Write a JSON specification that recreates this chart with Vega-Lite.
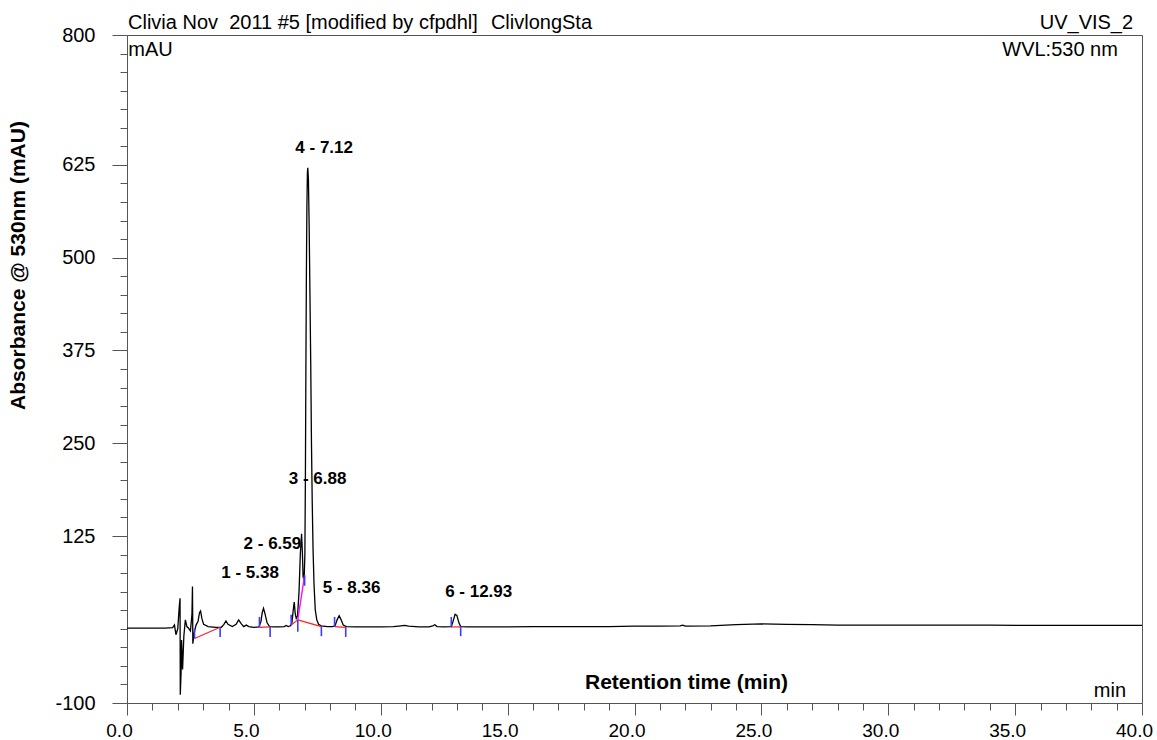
{
  "$schema": "https://vega.github.io/schema/vega-lite/v6.json",
  "autosize": {"type": "none"},
  "width": 1015,
  "height": 668,
  "padding": {"left": 127, "top": 35, "right": 15, "bottom": 37},
  "background": "white",
  "config": {
    "font": "Liberation Sans",
    "view": {"stroke": "#555555", "strokeWidth": 1},
    "axis": {"grid": false, "domainColor": "#555555", "tickColor": "#555555", "labelColor": "#000000", "titleColor": "#000000", "labelFont": "Liberation Sans", "titleFont": "Liberation Sans", "labelFontSize": 20}
  },
  "resolve": {"axis": {"x": "independent", "y": "independent"}},
  "datasets": {
    "trace": [
      {"time": 0, "mAU": 1}, {"time": 0.5, "mAU": 1}, {"time": 1, "mAU": 1}, {"time": 1.5, "mAU": 1},
      {"time": 1.8, "mAU": 1.5}, {"time": 1.87, "mAU": 5}, {"time": 1.93, "mAU": -8}, {"time": 2.0, "mAU": 0},
      {"time": 2.06, "mAU": 30}, {"time": 2.09, "mAU": 41}, {"time": 2.1, "mAU": -89}, {"time": 2.13, "mAU": -60},
      {"time": 2.15, "mAU": -15}, {"time": 2.19, "mAU": -55}, {"time": 2.24, "mAU": -10}, {"time": 2.3, "mAU": 12},
      {"time": 2.36, "mAU": 3}, {"time": 2.42, "mAU": 1}, {"time": 2.5, "mAU": -3}, {"time": 2.56, "mAU": 20},
      {"time": 2.58, "mAU": 57}, {"time": 2.595, "mAU": -20}, {"time": 2.65, "mAU": -5}, {"time": 2.72, "mAU": 5},
      {"time": 2.8, "mAU": 10}, {"time": 2.86, "mAU": 22}, {"time": 2.9, "mAU": 24}, {"time": 2.95, "mAU": 14},
      {"time": 3.02, "mAU": 6}, {"time": 3.2, "mAU": 3}, {"time": 3.5, "mAU": 2}, {"time": 3.72, "mAU": 2},
      {"time": 3.82, "mAU": 6}, {"time": 3.9, "mAU": 10.5}, {"time": 3.98, "mAU": 6}, {"time": 4.15, "mAU": 3},
      {"time": 4.3, "mAU": 6}, {"time": 4.4, "mAU": 12}, {"time": 4.5, "mAU": 7}, {"time": 4.6, "mAU": 3},
      {"time": 4.7, "mAU": 5}, {"time": 4.8, "mAU": 3}, {"time": 5.0, "mAU": 2}, {"time": 5.2, "mAU": 2.5},
      {"time": 5.28, "mAU": 10}, {"time": 5.33, "mAU": 22}, {"time": 5.38, "mAU": 27.6}, {"time": 5.44, "mAU": 20},
      {"time": 5.52, "mAU": 8}, {"time": 5.62, "mAU": 3}, {"time": 5.8, "mAU": 2.5}, {"time": 6.0, "mAU": 2.5},
      {"time": 6.2, "mAU": 3}, {"time": 6.27, "mAU": 4.5}, {"time": 6.35, "mAU": 3}, {"time": 6.45, "mAU": 4},
      {"time": 6.5, "mAU": 8}, {"time": 6.55, "mAU": 25}, {"time": 6.59, "mAU": 36}, {"time": 6.63, "mAU": 20},
      {"time": 6.67, "mAU": 14}, {"time": 6.72, "mAU": 17}, {"time": 6.78, "mAU": 50}, {"time": 6.83, "mAU": 100},
      {"time": 6.88, "mAU": 128}, {"time": 6.91, "mAU": 105}, {"time": 6.94, "mAU": 70}, {"time": 6.98, "mAU": 66},
      {"time": 7.01, "mAU": 100}, {"time": 7.03, "mAU": 200}, {"time": 7.05, "mAU": 350}, {"time": 7.07, "mAU": 480},
      {"time": 7.09, "mAU": 570}, {"time": 7.11, "mAU": 615}, {"time": 7.125, "mAU": 621}, {"time": 7.15, "mAU": 605},
      {"time": 7.18, "mAU": 540}, {"time": 7.21, "mAU": 450}, {"time": 7.24, "mAU": 360}, {"time": 7.27, "mAU": 250},
      {"time": 7.3, "mAU": 170}, {"time": 7.33, "mAU": 110}, {"time": 7.37, "mAU": 60}, {"time": 7.42, "mAU": 25},
      {"time": 7.48, "mAU": 12}, {"time": 7.55, "mAU": 6}, {"time": 7.65, "mAU": 4}, {"time": 7.9, "mAU": 3},
      {"time": 8.1, "mAU": 3}, {"time": 8.2, "mAU": 4}, {"time": 8.28, "mAU": 12}, {"time": 8.36, "mAU": 17.7},
      {"time": 8.44, "mAU": 12}, {"time": 8.52, "mAU": 5}, {"time": 8.65, "mAU": 3}, {"time": 9.0, "mAU": 2.5},
      {"time": 9.5, "mAU": 2.5}, {"time": 10.0, "mAU": 2.5}, {"time": 10.5, "mAU": 3}, {"time": 10.8, "mAU": 4},
      {"time": 10.94, "mAU": 4.5}, {"time": 11.1, "mAU": 3.5}, {"time": 11.5, "mAU": 2.5}, {"time": 11.9, "mAU": 2.5},
      {"time": 12.05, "mAU": 4}, {"time": 12.13, "mAU": 5.5}, {"time": 12.22, "mAU": 3}, {"time": 12.5, "mAU": 2.5},
      {"time": 12.78, "mAU": 3}, {"time": 12.85, "mAU": 10}, {"time": 12.93, "mAU": 19.5}, {"time": 13.0, "mAU": 18},
      {"time": 13.08, "mAU": 8}, {"time": 13.15, "mAU": 3}, {"time": 13.4, "mAU": 2.5}, {"time": 14, "mAU": 2.5},
      {"time": 15, "mAU": 2.5}, {"time": 16, "mAU": 2.8}, {"time": 17, "mAU": 3}, {"time": 18, "mAU": 3},
      {"time": 19, "mAU": 3}, {"time": 20, "mAU": 3.5}, {"time": 21, "mAU": 3.5}, {"time": 21.8, "mAU": 4},
      {"time": 21.9, "mAU": 4.8}, {"time": 22.0, "mAU": 3.5}, {"time": 23, "mAU": 4}, {"time": 24, "mAU": 5.5},
      {"time": 25, "mAU": 6.5}, {"time": 26, "mAU": 6}, {"time": 27, "mAU": 5.5}, {"time": 28, "mAU": 5},
      {"time": 30, "mAU": 5}, {"time": 32, "mAU": 4.8}, {"time": 34, "mAU": 4.8}, {"time": 36, "mAU": 4.6},
      {"time": 38, "mAU": 4.6}, {"time": 40, "mAU": 4.5}
    ],
    "baselines": [
      {"start": 2.66, "startAU": -13, "end": 3.67, "endAU": 2},
      {"start": 5.22, "startAU": 2, "end": 5.64, "endAU": 2.5},
      {"start": 6.47, "startAU": 5, "end": 6.73, "endAU": 12},
      {"start": 6.73, "startAU": 12, "end": 7.66, "endAU": 3},
      {"start": 8.18, "startAU": 3, "end": 8.62, "endAU": 2},
      {"start": 12.78, "startAU": 2.5, "end": 13.15, "endAU": 2.5}
    ],
    "drops": [
      {"start": 6.73, "startAU": 12, "end": 7.0, "endAU": 72}
    ],
    "delimiters": [
      {"time": 2.66, "from": -13, "to": 0},
      {"time": 3.67, "from": 2, "to": -11},
      {"time": 5.22, "from": 2, "to": 16},
      {"time": 5.64, "from": 2.5, "to": -11},
      {"time": 6.47, "from": 5, "to": 19},
      {"time": 6.73, "from": 12, "to": -4},
      {"time": 7.0, "from": 72, "to": 58},
      {"time": 7.66, "from": 3, "to": -10},
      {"time": 8.18, "from": 3, "to": 16},
      {"time": 8.62, "from": 2, "to": -11},
      {"time": 12.78, "from": 3, "to": 16},
      {"time": 13.15, "from": 3, "to": -10}
    ],
    "peaks": [
      {"time": 4.85, "mAU": 75, "label": "1 - 5.38"},
      {"time": 5.73, "mAU": 114, "label": "2 - 6.59"},
      {"time": 7.51, "mAU": 202, "label": "3 - 6.88"},
      {"time": 7.77, "mAU": 648, "label": "4 - 7.12"},
      {"time": 8.85, "mAU": 55, "label": "5 - 8.36"},
      {"time": 13.86, "mAU": 49, "label": "6 - 12.93"}
    ],
    "notesLeft": [
      {"time": 0.04, "mAU": 808, "label": "Clivia Nov\u00a0 2011 #5 [modified by cfpdhl]"},
      {"time": 14.34, "mAU": 808, "label": "ClivlongSta"},
      {"time": 0.05, "mAU": 772, "label": "mAU"}
    ],
    "notesRight": [
      {"time": 39.65, "mAU": 808, "label": "UV_VIS_2"},
      {"time": 39.05, "mAU": 772, "label": "WVL:530 nm"},
      {"time": 39.37, "mAU": -92, "label": "min"}
    ]
  },
  "layer": [
    {
      "data": {"name": "trace"},
      "mark": {"type": "line", "color": "#000000", "strokeWidth": 1.3, "clip": true},
      "encoding": {
        "x": {
          "field": "time", "type": "quantitative",
          "scale": {"domain": [0, 40], "nice": false, "zero": false},
          "axis": {
            "orient": "bottom",
            "values": [0, 5, 10, 15, 20, 25, 30, 35, 40],
            "format": ".1f",
            "tickSize": 12,
            "labelFontSize": 19,
            "labelPadding": 6,
            "labelOffset": -8,
            "labelOverlap": false,
            "labelFlush": false,
            "title": "Retention time (min)",
            "titleFontSize": 21,
            "titleFontWeight": "bold",
            "titleX": 559,
            "titleY": -15,
            "titleAlign": "center",
            "titleBaseline": "alphabetic"
          }
        },
        "y": {
          "field": "mAU", "type": "quantitative",
          "scale": {"domain": [-100, 800], "nice": false, "zero": false},
          "axis": {
            "orient": "left",
            "values": [-100, 125, 250, 375, 500, 625, 800],
            "labelExpr": "'' + datum.value",
            "tickSize": 15,
            "labelPadding": 17,
            "labelOverlap": false,
            "labelFlush": false,
            "title": "Absorbance @ 530nm (mAU)",
            "titleFontSize": 21,
            "titleFontWeight": "bold",
            "titleAngle": -90,
            "titleX": -109,
            "titleY": 230,
            "titleAlign": "center",
            "titleBaseline": "middle"
          }
        }
      }
    },
    {
      "data": {"name": "baselines"},
      "mark": {"type": "rule", "color": "#ff2020", "strokeWidth": 1.2},
      "encoding": {
        "x": {
          "field": "start", "type": "quantitative",
          "axis": {"orient": "bottom", "values": [1,2,3,4,6,7,8,9,11,12,13,14,16,17,18,19,21,22,23,24,26,27,28,29,31,32,33,34,36,37,38,39], "tickSize": 7, "labels": false, "domain": false, "title": null}
        },
        "x2": {"field": "end"},
        "y": {
          "field": "startAU", "type": "quantitative",
          "axis": {"orient": "left", "values": [-75,-50,-25,0,25,50,75,100,150,175,200,225,275,300,325,350,400,425,450,475,525,550,575,600,650,675,700,725,750,775], "tickSize": 7, "labels": false, "domain": false, "title": null}
        },
        "y2": {"field": "endAU"}
      }
    },
    {
      "data": {"name": "drops"},
      "mark": {"type": "rule", "color": "#ee22ee", "strokeWidth": 1.5},
      "encoding": {
        "x": {"field": "start", "type": "quantitative", "axis": null},
        "x2": {"field": "end"},
        "y": {"field": "startAU", "type": "quantitative", "axis": null},
        "y2": {"field": "endAU"}
      }
    },
    {
      "data": {"name": "delimiters"},
      "mark": {"type": "rule", "color": "#3b3bff", "strokeWidth": 1.6},
      "encoding": {
        "x": {"field": "time", "type": "quantitative", "axis": null},
        "y": {"field": "from", "type": "quantitative", "axis": null},
        "y2": {"field": "to"}
      }
    },
    {
      "data": {"name": "peaks"},
      "mark": {"type": "text", "fontSize": 17, "fontWeight": "bold", "align": "center", "baseline": "middle", "color": "#000000"},
      "encoding": {
        "x": {"field": "time", "type": "quantitative", "axis": null},
        "y": {"field": "mAU", "type": "quantitative", "axis": null},
        "text": {"field": "label"}
      }
    },
    {
      "data": {"name": "notesLeft"},
      "mark": {"type": "text", "fontSize": 20, "align": "left", "baseline": "alphabetic", "color": "#000000"},
      "encoding": {
        "x": {"field": "time", "type": "quantitative", "axis": null},
        "y": {"field": "mAU", "type": "quantitative", "axis": null},
        "text": {"field": "label"}
      }
    },
    {
      "data": {"name": "notesRight"},
      "mark": {"type": "text", "fontSize": 20, "align": "right", "baseline": "alphabetic", "color": "#000000"},
      "encoding": {
        "x": {"field": "time", "type": "quantitative", "axis": null},
        "y": {"field": "mAU", "type": "quantitative", "axis": null},
        "text": {"field": "label"}
      }
    }
  ]
}
